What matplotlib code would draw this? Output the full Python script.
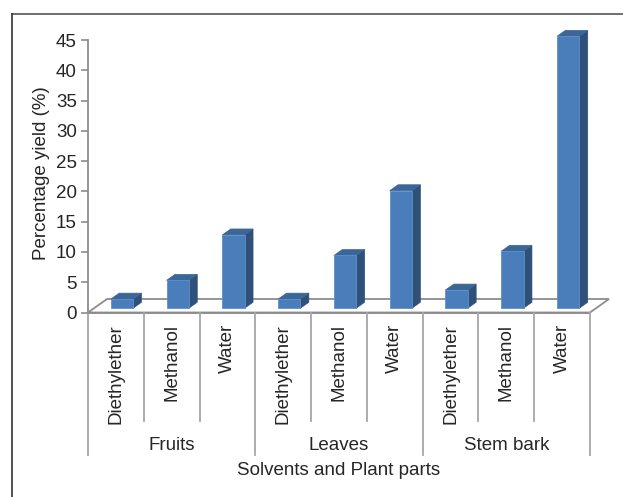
import matplotlib
matplotlib.use("Agg")
import matplotlib.pyplot as plt
from matplotlib.patches import Polygon
from matplotlib.lines import Line2D
import numpy as np

plant_parts = ["Fruits", "Leaves", "Stem bark"]
solvents = ["Diethylether", "Methanol", "Water"]
yield_pct = [1.5, 4.6, 12.1, 1.5, 8.7, 19.4, 3.0, 9.4, 44.9]
y_ticks = [0, 5, 10, 15, 20, 25, 30, 35, 40, 45]

plt.rcParams['font.family'] = ['Liberation Sans', 'DejaVu Sans']
FS = 13.5
TXT = '#262626'
GRID = '#8c8c8c'
SEP = '#a6a6a6'

fig = plt.figure(figsize=(6.23, 4.97), dpi=100)
W, H = 623, 497
# plot area in pixels: x 88..590, y 40..312.5 (from top)
ax = fig.add_axes([88 / W, (H - 312.5) / H, 502 / W, 272.5 / H])
n = len(yield_pct)
ax.set_xlim(0, n)
ax.set_ylim(0, 45)

# depth of the floor, in data units
px_x = 502 / n
px_y = 272.5 / 45
depth = np.array([19 / px_x, 13.5 / px_y])
bar_w = 0.4
d0, d1 = 0.32, 0.76  # bar front/back position inside the floor depth

# floor
floor = [(0, 0), (n, 0), (n + depth[0], depth[1]), (depth[0], depth[1])]
ax.add_patch(Polygon(floor, closed=True, facecolor='white', edgecolor=GRID,
                     lw=1.3, clip_on=False, zorder=1))

front_c = '#4a7ebb'
side_c = '#2f5079'
top_c = '#3a6698'
for i, v in enumerate(yield_pct):
    x0 = i + 0.5 - bar_w / 2 + d0 * depth[0]
    x1 = x0 + bar_w
    yb = d0 * depth[1]
    yt = yb + v
    ddx = (d1 - d0) * depth[0]
    ddy = (d1 - d0) * depth[1]
    side = [(x1, yb), (x1 + ddx, yb + ddy), (x1 + ddx, yt + ddy), (x1, yt)]
    top = [(x0, yt), (x1, yt), (x1 + ddx, yt + ddy), (x0 + ddx, yt + ddy)]
    front = [(x0, yb), (x1, yb), (x1, yt), (x0, yt)]
    ax.add_patch(Polygon(side, closed=True, facecolor=side_c, edgecolor=side_c,
                         lw=0.5, clip_on=False, zorder=3))
    ax.add_patch(Polygon(top, closed=True, facecolor=top_c, edgecolor=top_c,
                         lw=0.5, clip_on=False, zorder=3))
    ax.add_patch(Polygon(front, closed=True, facecolor=front_c, edgecolor='#5d8fcb',
                         lw=0.6, clip_on=False, zorder=4))

for s in ['top', 'right', 'bottom']:
    ax.spines[s].set_visible(False)
ax.spines['left'].set_color(GRID)
ax.spines['left'].set_linewidth(1.3)
ax.set_yticks(y_ticks)
ax.tick_params(axis='y', length=5, width=1.2, color=GRID, labelsize=FS,
               labelcolor=TXT, pad=3)
ax.set_xticks([])
ax.axhline(0, color=GRID, lw=1.3, zorder=2, clip_on=False)

trans = ax.get_xaxis_transform()
labels = solvents * len(plant_parts)
for i, lab in enumerate(labels):
    ax.text(i + 0.5, -0.042, lab, rotation=90, ha='center', va='top',
            fontsize=FS, color=TXT, transform=trans)

for i in range(n + 1):
    low = -0.523 if i % 3 == 0 else -0.398
    ax.add_line(Line2D([i, i], [0, low], color=SEP, lw=1.3,
                       transform=trans, clip_on=False))

for g, part in enumerate(plant_parts):
    ax.text(g * 3 + 1.5, -0.505, part, ha='center', va='baseline',
            fontsize=FS, color=TXT, transform=trans)

ax.text(0.5, -0.596, "Solvents and Plant parts", ha='center', va='baseline',
        fontsize=FS, color=TXT, transform=ax.transAxes)
ax.text(-0.0936, 0.51, "Percentage yield (%)", rotation=90, ha='center',
        va='center', fontsize=FS, color=TXT, transform=ax.transAxes)

# outer frame (top and left edges visible)
fig.add_artist(Line2D([12 / W, 1], [1 - 14 / H, 1 - 14 / H], color='#6e6e6e',
                      lw=1.4, transform=fig.transFigure))
fig.add_artist(Line2D([12 / W, 12 / W], [0, 1 - 14 / H], color='#333333',
                      lw=1.2, transform=fig.transFigure))

fig.savefig("out.png", dpi=100, facecolor='white')
